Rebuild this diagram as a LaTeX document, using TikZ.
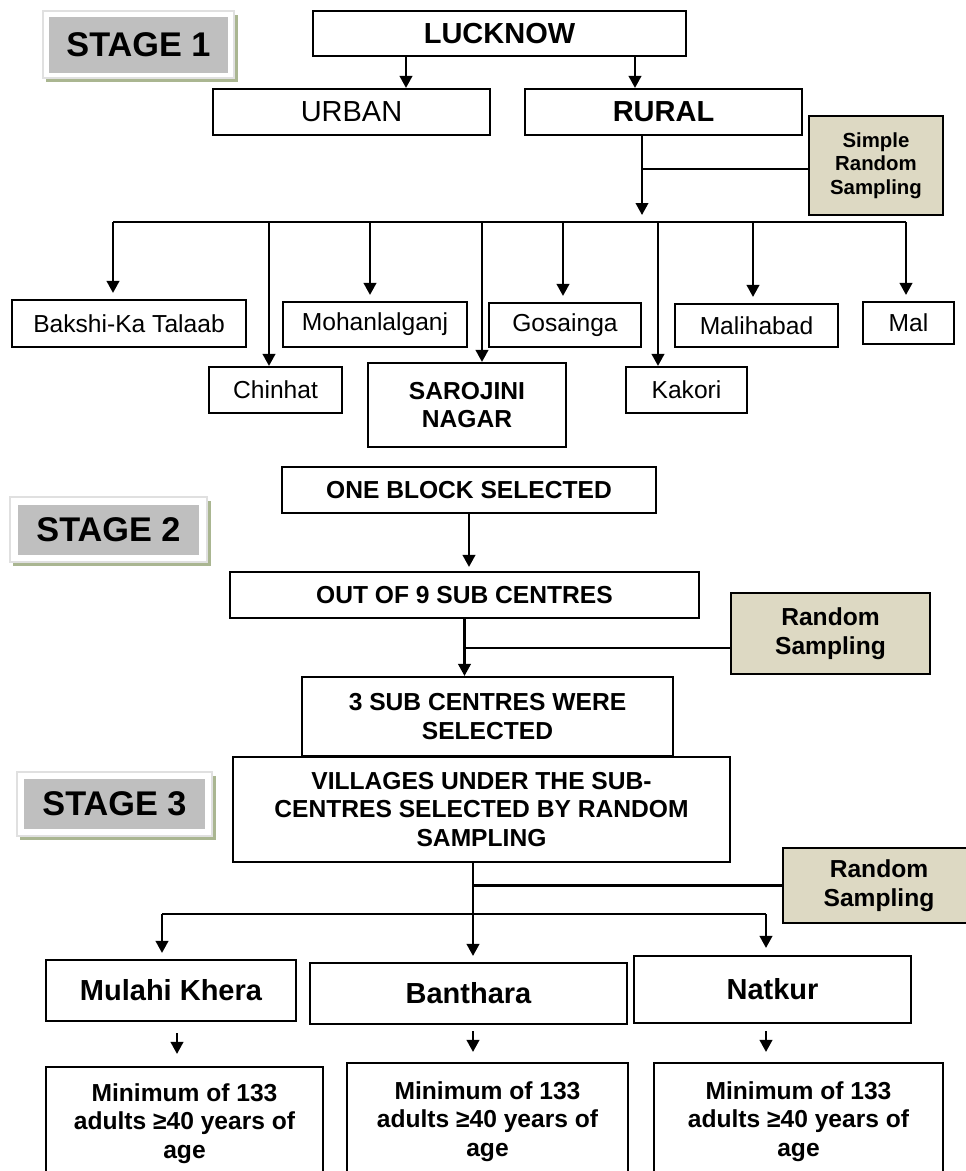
\documentclass[tikz,border=0pt]{standalone}
\usepackage{fontspec}
\setmainfont{Liberation Sans}
\usetikzlibrary{arrows.meta,shadows}
\definecolor{tanfill}{RGB}{221,217,195}
\definecolor{stagegray}{RGB}{191,191,191}
\definecolor{stageshadow}{RGB}{170,182,145}
\newcommand{\fstage}{\fontsize{19.5}{22}\selectfont\bfseries}
\newcommand{\fbig}{\fontsize{16.5}{19}\selectfont}
\newcommand{\fmid}{\fontsize{14}{16.3}\selectfont}
\newcommand{\fsmall}{\fontsize{11.6}{13.3}\selectfont}
\tikzset{
  sz/.style 2 args={minimum width=#1*0.02cm, minimum height=#2*0.02cm},
  box/.style={draw=black, line width=1.2pt, fill=white, inner sep=0pt, align=center},
  tanbox/.style={box, fill=tanfill, line width=1.4pt},
  stageframe/.style={draw=black!12, line width=0.6pt, fill=white, inner sep=0pt,
    drop shadow={shadow xshift=0.07cm, shadow yshift=-0.07cm, fill=stageshadow, opacity=1}},
  stagebox/.style={fill=stagegray, inner sep=0pt, font=\fstage},
  arr/.style={-{Triangle[length=0.24cm,width=0.25cm]}, line width=1.25pt},
  link/.style={line width=1.25pt},
}

\begin{document}
\begin{tikzpicture}[x=0.02cm, y=-0.02cm]
	%%%%% START %%%%%
	\clip (0,0) rectangle (966,1171);
	
	\node[stageframe, sz={191}{67}] (s1frame) at (138.5,44.5) {};
	\node[stagebox, sz={179}{56}] (stage1) at (s1frame) {STAGE 1};
	\node[stageframe, sz={197}{65}] (s2frame) at (108.5,529.5) {};
	\node[stagebox, sz={181}{50}] (stage2) at (s2frame) {STAGE 2};
	\node[stageframe, sz={195}{64}] (s3frame) at (114.5,804) {};
	\node[stagebox, sz={181}{50}] (stage3) at (s3frame) {STAGE 3};
	
	\node[box, sz={373}{45}, font=\fbig\bfseries] (lucknow) at (499.5,33.5) {LUCKNOW};
	\node[box, sz={277}{46}, font=\fbig] (urban) at (351.5,112) {URBAN};
	\node[box, sz={277}{46}, font=\fbig\bfseries] (rural) at (663.5,112) {RURAL};
	\node[tanbox, sz={134}{99}, font=\fsmall\bfseries] (simple) at (876,165.5) {Simple\\Random\\Sampling};
	
	\node[box, sz={234}{47}, font=\fmid] (bakshi) at (129,323.5) {Bakshi-Ka Talaab};
	\node[box, sz={184}{45}, font=\fmid] (mohan) at (375,324.5) {Mohanlalganj};
	\node[box, sz={152}{44}, font=\fmid] (gosainga) at (565,325) {Gosainga};
	\node[box, sz={163}{43}, font=\fmid] (malihabad) at (756.5,325.5) {Malihabad};
	\node[box, sz={91}{42}, font=\fmid] (mal) at (908.5,323) {Mal};
	\node[box, sz={133}{46}, font=\fmid] (chinhat) at (275.5,390) {Chinhat};
	\node[box, sz={198}{84}, font=\fmid\bfseries] (sarojini) at (467,405) {SAROJINI\\NAGAR};
	\node[box, sz={121}{46}, font=\fmid] (kakori) at (686.5,390) {Kakori};
	
	\node[box, sz={374}{46}, font=\fmid\bfseries] (oneblock) at (469,490) {ONE BLOCK SELECTED};
	\node[box, sz={469}{46}, font=\fmid\bfseries] (outof9) at (464.5,595) {OUT OF 9 SUB CENTRES};
	\node[tanbox, sz={199}{81}, font=\fmid\bfseries] (random2) at (830.5,633.5) {Random\\Sampling};
	\node[box, sz={371}{79}, font=\fmid\bfseries] (threesub) at (487.5,716.5) {3 SUB CENTRES WERE\\SELECTED};
	
	\node[box, sz={497}{105}, font=\fmid\bfseries] (villages) at (481.5,809.5) {VILLAGES UNDER THE SUB-\\CENTRES SELECTED BY RANDOM\\SAMPLING};
	\node[tanbox, sz={192}{75}, font=\fmid\bfseries] (random3) at (879,885.5) {Random\\Sampling};
	\node[box, sz={250}{61}, font=\fbig\bfseries] (mulahi) at (171,990.5) {Mulahi Khera};
	\node[box, sz={317}{61}, font=\fbig\bfseries] (banthara) at (468.5,993.5) {Banthara};
	\node[box, sz={277}{67}, font=\fbig\bfseries] (natkur) at (772.5,989.5) {Natkur};
	\node[box, sz={277}{113}, font=\fmid\bfseries] (min1) at (184.5,1123.5) {Minimum of 133\\adults ≥40 years of\\age};
	\node[box, sz={281}{117}, font=\fmid\bfseries] (min2) at (487.5,1121.5) {Minimum of 133\\adults ≥40 years of\\age};
	\node[box, sz={289}{117}, font=\fmid\bfseries] (min3) at (798.5,1121.5) {Minimum of 133\\adults ≥40 years of\\age};
	
	% stage 1
	\coordinate (xU) at (406,0);
	\coordinate (xR1) at (635,0);
	\coordinate (xR2) at (642,0);
	\draw[arr] (lucknow.south -| xU) -- (urban.north -| xU);
	\draw[arr] (lucknow.south -| xR1) -- (rural.north -| xR1);
	\coordinate (bus1L) at (113,222);
	\coordinate (bus1R) at (906,222);
	\draw[link] (bus1L) -- (bus1R);
	\draw[arr, shorten >=0.14cm] (rural.south -| xR2) -- (bus1L -| xR2);
	\draw[link] ([yshift=-0.07cm]simple.west -| xR2) -- ([yshift=-0.07cm]simple.west);
	\foreach \name/\x/\gap in {bakshi/113/6, chinhat/269/0, mohan/370/6, sarojini/482/0, gosainga/563/6, kakori/658/0, malihabad/753/6, mal/906/6}
		\draw[arr, shorten >=\gap*0.02cm] (bus1L -| \x,0) -- (\name.north -| \x,0);
	
	% stage 2
	\draw[arr, shorten >=0.08cm] (oneblock.south) -- (oneblock.south |- outof9.north);
	\draw[arr] (outof9.south) -- (outof9.south |- threesub.north);
	\coordinate (j2) at (464.5,648);
	\draw[link] (j2) -- (j2 -| random2.west);
	
	% stage 3
	\coordinate (xV) at (473,0);
	\draw[arr, shorten >=0.12cm] (villages.south -| xV) -- (banthara.north -| xV);
	\draw[link] (random3.west -| xV) -- (random3.west);
	\coordinate (bus3L) at (162,914);
	\coordinate (bus3R) at (766,914);
	\draw[link] (bus3L) -- (bus3R);
	\draw[arr, shorten >=0.12cm] (bus3L) -- (bus3L |- mulahi.north);
	\draw[arr, shorten >=0.14cm] (bus3R) -- (bus3R |- natkur.north);
	\coordinate (xM) at (177,0);
	\draw[arr, shorten <=0.22cm, shorten >=0.24cm] (mulahi.south -| xM) -- (min1.north -| xM);
	\draw[arr, shorten <=0.12cm, shorten >=0.2cm] (banthara.south -| xV) -- (min2.north -| xV);
	\draw[arr, shorten <=0.14cm, shorten >=0.2cm] (natkur.south -| bus3R) -- (min3.north -| bus3R);
	%%%%% END %%%%%
\end{tikzpicture}
\end{document}
